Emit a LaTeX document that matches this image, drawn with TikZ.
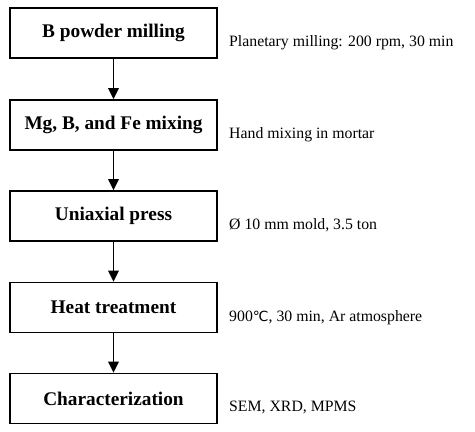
\documentclass[tikz,border=0pt]{standalone}
\usepackage{fontspec}
\setmainfont{Liberation Serif}
\newfontfamily\symfont{DejaVu Sans}
\usetikzlibrary{arrows.meta}
\begin{document}
\begin{tikzpicture}[x=1pt,y=1pt,
  stepbox/.style={draw, line width=1.6pt, minimum width=207pt, minimum height=50pt, inner sep=0pt,
    font=\bfseries\fontsize{19.3}{22}\selectfont},
  note/.style={anchor=west, inner sep=0pt, font=\fontsize{15.8}{18}\selectfont},
  arr/.style={line width=1.6pt, -{Triangle[length=11pt,width=10.5pt]}}]
\useasboundingbox (0,0) rectangle (475,-432);
\node[stepbox] (b1) at (113.5,-33) {B powder milling};
\node[stepbox] (b2) at (113.5,-125) {Mg, B, and Fe mixing};
\node[stepbox] (b3) at (113.5,-216) {Uniaxial press};
\node[stepbox] (b4) at (113.5,-307.5) {Heat treatment};
\node[stepbox] (b5) at (113.5,-398.5) {Characterization};
\node[note] (n1) at (229,-43) {Planetary milling: 200 rpm, 30 min};
\node[note] (n2) at (229,-135) {Hand mixing in mortar};
\node[note] (n3) at (229,-225) {Ø 10 mm mold, 3.5 ton};
\node[note] (n4) at (229,-318) {900{\symfont\fontsize{14}{16}\selectfont ℃}, 30 min, Ar atmosphere};
\node[note] (n5) at (229,-407) {SEM, XRD, MPMS};
\draw[arr] (b1) -- (b2);
\draw[arr] (b2) -- (b3);
\draw[arr] (b3) -- (b4);
\draw[arr] (b4) -- (b5);
\end{tikzpicture}
\end{document}
